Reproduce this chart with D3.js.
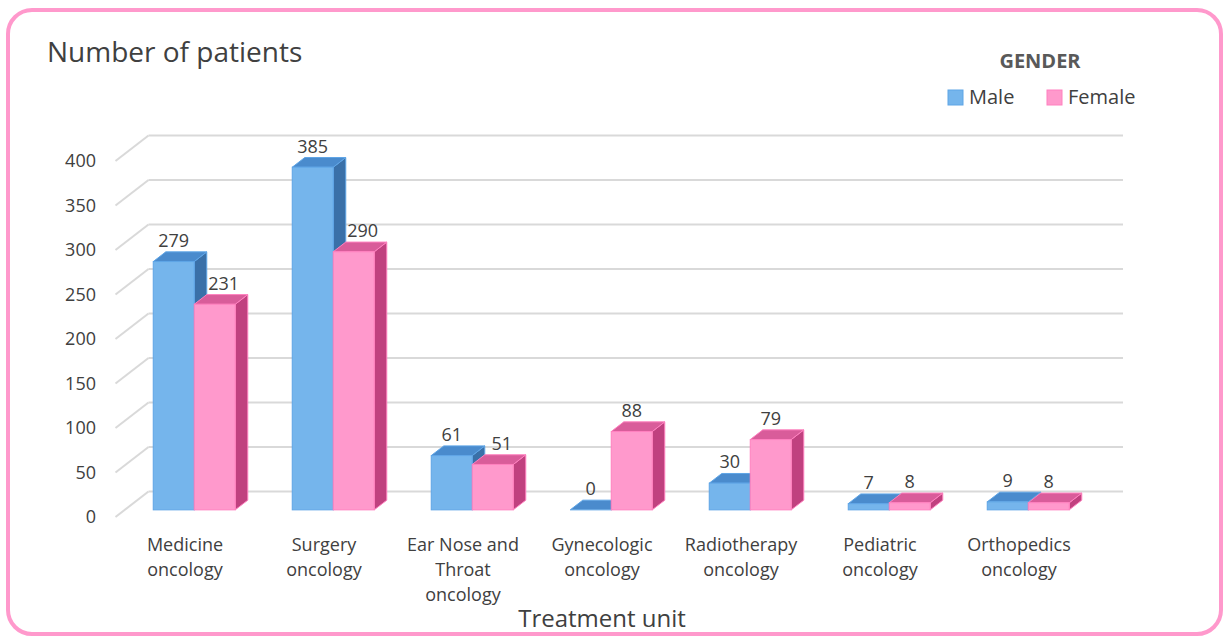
<!DOCTYPE html>
<html>
<head>
<meta charset="utf-8">
<script src="https://cdn.jsdelivr.net/npm/d3@7"></script>
<style>
  body { margin: 0; background: #fff; }
  text { font-family: "Open Sans", sans-serif; fill: #404040; }
</style>
</head>
<body>
<div id="chart"></div>
<script>
// data
var categories = [
  ["Medicine", "oncology"],
  ["Surgery", "oncology"],
  ["Ear Nose and", "Throat", "oncology"],
  ["Gynecologic", "oncology"],
  ["Radiotherapy", "oncology"],
  ["Pediatric", "oncology"],
  ["Orthopedics", "oncology"]
];
var male = [279, 385, 61, 0, 30, 7, 9];
var female = [231, 290, 51, 88, 79, 8, 8];
var yTicks = [0, 50, 100, 150, 200, 250, 300, 350, 400];
var seriesNames = ["Male", "Female"];

var W = 1226, H = 639;

var svg = d3.select("#chart")
  .append("svg")
    .attr("width", W)
    .attr("height", H);

// pink rounded frame
svg.append("rect")
  .attr("x", 8).attr("y", 10)
  .attr("width", 1213).attr("height", 624)
  .attr("rx", 24)
  .attr("fill", "#fff")
  .attr("stroke", "#ff99cc")
  .attr("stroke-width", 4);

// front plane scales, depth goes up-right
var x = d3.scaleBand()
  .domain(d3.range(categories.length))
  .range([115.5, 115.5 + 139 * categories.length]);
var y = d3.scaleLinear()
  .domain([0, 400])
  .range([517, 161]);
var DX = 33, DY = 25.5;      // full depth of the floor
var f0 = 0.28, f1 = 0.66;    // bar front / back depth
var backRight = 1123;

// gridlines: diagonal side wall + back wall
var grid = svg.append("g");
yTicks.forEach(function(t) {
  grid.append("line")
    .attr("x1", x.range()[0]).attr("y1", y(t))
    .attr("x2", x.range()[0] + DX).attr("y2", y(t) - DY)
    .attr("stroke", "#d9d9d9").attr("stroke-width", 2);
  grid.append("line")
    .attr("x1", x.range()[0] + DX).attr("y1", y(t) - DY)
    .attr("x2", backRight).attr("y2", y(t) - DY)
    .attr("stroke", "#d9d9d9").attr("stroke-width", 2);
});

// y tick labels
svg.append("g").selectAll("text")
  .data(yTicks)
  .enter().append("text")
    .attr("x", 96)
    .attr("y", function(d) { return y(d); })
    .attr("dy", "0.35em")
    .attr("text-anchor", "end")
    .style("font-size", "18px")
    .text(function(d) { return d; });

var colors = {
  Male:   { front: "#75b5ec", top: "#4a8bcd", side: "#3a70a8", stroke: "#5fa5e6" },
  Female: { front: "#ff99cc", top: "#d95c9a", side: "#c0417f", stroke: "#ff80bf" }
};
var barW = 41;
var ddx = (f1 - f0) * DX, ddy = (f1 - f0) * DY;

function bar(g, x0, v, c) {
  var yTop = y(v) - f0 * DY, yBase = y(0) - f0 * DY;
  var x1 = x0 + barW;
  g.append("polygon")
    .attr("points", [[x1, yTop], [x1 + ddx, yTop - ddy], [x1 + ddx, yBase - ddy], [x1, yBase]].join(" "))
    .attr("fill", c.side).attr("stroke", c.stroke).attr("stroke-width", 1);
  g.append("polygon")
    .attr("points", [[x0, yTop], [x1, yTop], [x1 + ddx, yTop - ddy], [x0 + ddx, yTop - ddy]].join(" "))
    .attr("fill", c.top).attr("stroke", c.stroke).attr("stroke-width", 1);
  g.append("rect")
    .attr("x", x0).attr("y", yTop)
    .attr("width", barW).attr("height", Math.max(0, yBase - yTop))
    .attr("fill", c.front).attr("stroke", c.stroke).attr("stroke-width", 1);
}

var bars = svg.append("g");
var labels = svg.append("g");
categories.forEach(function(cat, i) {
  var cx = x(i) + x.bandwidth() / 2 + f0 * DX;
  var vals = [male[i], female[i]];
  vals.forEach(function(v, s) {
    var x0 = s === 0 ? cx - barW : cx;
    bar(bars, x0, v, colors[seriesNames[s]]);
    // female label nudged right when it sits next to a taller male bar
    var shift = (s === 1 && female[i] < male[i] && male[i] > 40) ? 9 : 0;
    labels.append("text")
      .attr("x", x0 + barW / 2 + shift)
      .attr("y", y(v) - f1 * DY - 5)
      .attr("text-anchor", "middle")
      .style("font-size", "18px")
      .text(v);
  });
});

// category labels
var cl = svg.append("g");
categories.forEach(function(lines, i) {
  var t = cl.append("text")
    .attr("x", x(i) + x.bandwidth() / 2)
    .attr("y", 551)
    .attr("text-anchor", "middle")
    .style("font-size", "18px");
  lines.forEach(function(l, k) {
    t.append("tspan")
      .attr("x", x(i) + x.bandwidth() / 2)
      .attr("dy", k === 0 ? 0 : 25)
      .text(l);
  });
});

// titles
svg.append("text")
  .attr("x", 47).attr("y", 62)
  .style("font-size", "28px")
  .text("Number of patients");

svg.append("text")
  .attr("x", 602).attr("y", 627)
  .attr("text-anchor", "middle")
  .style("font-size", "24px")
  .text("Treatment unit");

// legend
svg.append("text")
  .attr("x", 1040).attr("y", 68)
  .attr("text-anchor", "middle")
  .style("font-size", "20px")
  .style("font-weight", "bold")
  .style("fill", "#595959")
  .text("GENDER");

var legX = [948, 1047];
seriesNames.forEach(function(name, s) {
  svg.append("rect")
    .attr("x", legX[s]).attr("y", 90)
    .attr("width", 15).attr("height", 15)
    .attr("fill", colors[name].front)
    .attr("stroke", colors[name].stroke);
  svg.append("text")
    .attr("x", legX[s] + 21).attr("y", 104)
    .style("font-size", "20px")
    .text(name);
});
</script>
</body>
</html>
